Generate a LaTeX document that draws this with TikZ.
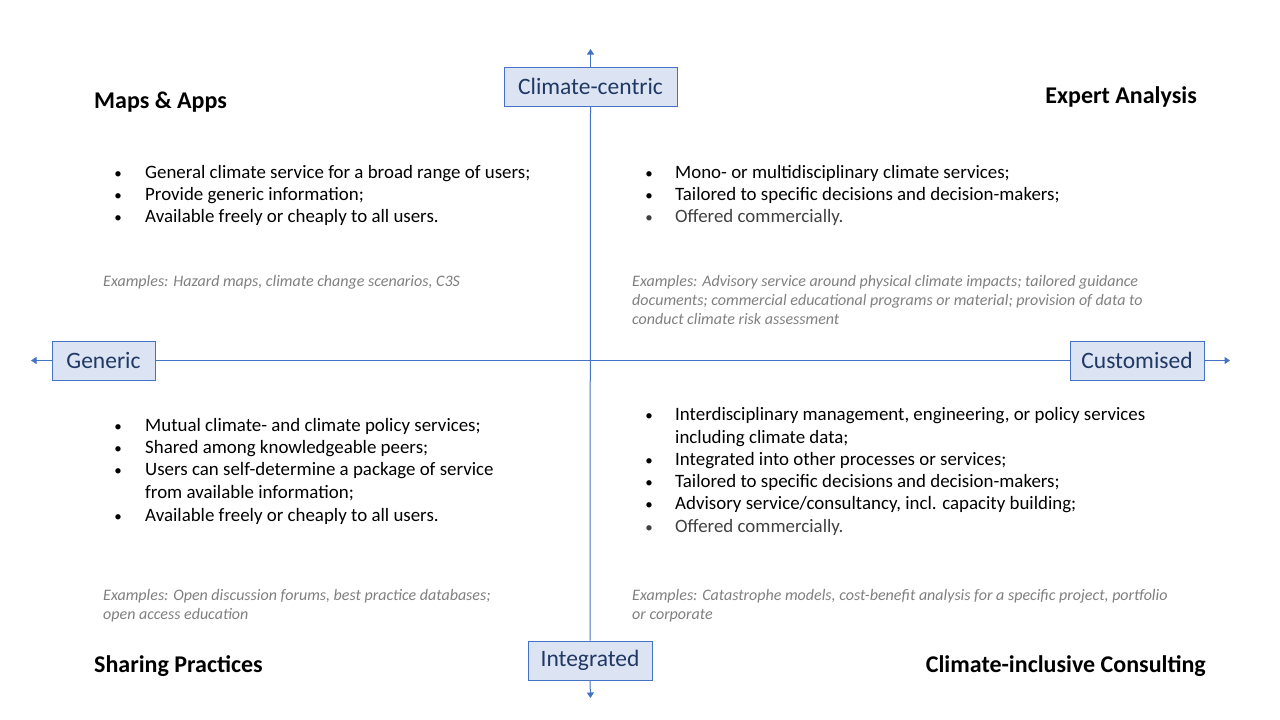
\documentclass[tikz,border=0pt]{standalone}
\usepackage{fontspec}
\setmainfont{Carlito}
\usetikzlibrary{arrows.meta}
\definecolor{axblue}{HTML}{4472C4}
\definecolor{boxfill}{HTML}{DCE4F3}
\definecolor{navy}{HTML}{1F3864}
\definecolor{exgrey}{HTML}{7F7F7F}
\definecolor{soft}{HTML}{404040}
\begin{document}
\begin{tikzpicture}[x=1pt,y=-1pt,
 axis/.style={draw=axblue, line width=1pt},
 tipend/.style={-{Triangle[length=5.5pt,width=7pt]}},
 axbox/.style={draw=axblue, fill=boxfill, line width=1pt, text=navy, font=\fontsize{23.5}{27}\selectfont, minimum height=39pt, inner sep=0pt},
 ttl/.style={font=\fontsize{24}{28}\selectfont\bfseries, inner sep=0pt},
 btxt/.style={font=\fontsize{18.9}{22}\selectfont, anchor=base west, inner sep=0pt},
 bdot/.style={font=\fontsize{15}{18}\selectfont, anchor=base, inner sep=0pt},
 ex/.style={font=\fontsize{16}{19}\selectfont\itshape, text=exgrey, anchor=base west, inner sep=0pt}]
\useasboundingbox (0,0) rectangle (1280,720);

% axis boxes
\node[axbox, minimum width=173pt] (cc) at (590.5,86.5) {Climate-centric};
\node[axbox, minimum width=103pt] (gen) at (103.5,360.5) {Generic};
\node[axbox, minimum width=134pt] (cus) at (1137,360.5) {Customised};
\node[axbox, minimum width=124pt] (itg) at (590,660.5) {Integrated};

\coordinate (top) at (590.5,49);
\coordinate (bot) at (590.5,698);
\coordinate (lft) at (31,360.5);
\coordinate (rgt) at (1230,360.5);

\draw[axis] (cc.south) -- (itg.north);
\draw[axis] (gen.east) -- (cus.west);
\draw[axis, tipend] (cc.north) -- (top);
\draw[axis, tipend] (itg.south) -- (bot);
\draw[axis, tipend] (gen.west) -- (lft);
\draw[axis, tipend] (cus.east) -- (rgt);

% titles
\node[ttl, anchor=base west] (t1) at (94,108) {Maps \& Apps};
\node[ttl, anchor=base east] (t2) at (1197,103.5) {Expert Analysis};
\node[ttl, anchor=base west] (t3) at (94,672.5) {Sharing Practices};
\node[ttl, anchor=base east] (t4) at (1206,672.5) {Climate-inclusive Consulting};

% top left
\node[bdot] (tld1) at (118,178.5) {•};
\node[btxt] (tl1) at (145,178.5) {General climate service for a broad range of users;};
\node[bdot] (tld2) at (118,200.5) {•};
\node[btxt] (tl2) at (145,200.5) {Provide generic information;};
\node[bdot] (tld3) at (118,222.5) {•};
\node[btxt] (tl3) at (145,222.5) {Available freely or cheaply to all users.};
\node[ex] (tle1) at (103,286) {Examples: Hazard maps, climate change scenarios, C3S};

% top right
\node[bdot] (trd1) at (649,178.5) {•};
\node[btxt] (tr1) at (675,178.5) {Mono- or multidisciplinary climate services;};
\node[bdot] (trd2) at (649,200.5) {•};
\node[btxt] (tr2) at (675,200.5) {Tailored to specific decisions and decision-makers;};
\node[bdot, text=soft] (trd3) at (649,222.5) {•};
\node[btxt, text=soft] (tr3) at (675,222.5) {Offered commercially.};
\node[ex] (tre1) at (632,286) {Examples: Advisory service around physical climate impacts; tailored guidance};
\node[ex] (tre2) at (632,305) {documents; commercial educational programs or material; provision of data to};
\node[ex] (tre3) at (632,324) {conduct climate risk assessment};

% bottom left
\node[bdot] (bld1) at (118,431) {•};
\node[btxt] (bl1) at (145,431) {Mutual climate- and climate policy services;};
\node[bdot] (bld2) at (118,453) {•};
\node[btxt] (bl2) at (145,453) {Shared among knowledgeable peers;};
\node[bdot] (bld3) at (118,475) {•};
\node[btxt] (bl3) at (145,475) {Users can self-determine a package of service};
\node[btxt] (bl3b) at (145,498) {from available information;};
\node[bdot] (bld4) at (118,521) {•};
\node[btxt] (bl4) at (145,521) {Available freely or cheaply to all users.};
\node[ex] (ble1) at (103,600) {Examples: Open discussion forums, best practice databases;};
\node[ex] (ble2) at (103,619) {open access education};

% bottom right
\node[bdot] (brd1) at (649,420.5) {•};
\node[btxt] (br1) at (675,420.5) {Interdisciplinary management, engineering, or policy services};
\node[btxt] (br1b) at (675,443.5) {including climate data;};
\node[bdot] (brd2) at (649,465.5) {•};
\node[btxt] (br2) at (675,465.5) {Integrated into other processes or services;};
\node[bdot] (brd3) at (649,487.5) {•};
\node[btxt] (br3) at (675,487.5) {Tailored to specific decisions and decision-makers;};
\node[bdot] (brd4) at (649,509.5) {•};
\node[btxt] (br4) at (675,509.5) {Advisory service/consultancy, incl. capacity building;};
\node[bdot, text=soft] (brd5) at (649,532) {•};
\node[btxt, text=soft] (br5) at (675,532) {Offered commercially.};
\node[ex] (bre1) at (632,600) {Examples: Catastrophe models, cost-benefit analysis for a specific project, portfolio};
\node[ex] (bre2) at (632,619) {or corporate};
\end{tikzpicture}
\end{document}
